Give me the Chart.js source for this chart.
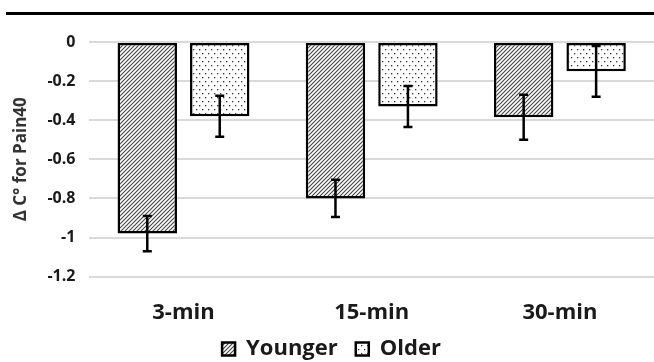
<!DOCTYPE html>
<html>
<head>
<meta charset="utf-8">
<script src="https://cdn.jsdelivr.net/npm/chart.js@4/dist/chart.umd.min.js"></script>
<style>
  html, body { margin: 0; padding: 0; background: #fff; }
  #wrap { position: relative; width: 654px; height: 362px; }
  #rule { position: absolute; left: 6px; right: 0; top: 12px; height: 3px; background: #000; }
</style>
</head>
<body>
<div id="wrap">
  <div id="rule"></div>
  <canvas id="chart" width="654" height="362"></canvas>
</div>
<script>
// Data
const categories = ['3-min', '15-min', '30-min'];
const younger    = [-0.98, -0.80, -0.385];
const youngerErr = [0.09, 0.095, 0.115];
const older      = [-0.38, -0.33, -0.15];
const olderErr   = [0.105, 0.105, 0.13];
const yTicks     = [0, -0.2, -0.4, -0.6, -0.8, -1, -1.2];

const TEXT = '#1a1a1a';
const FONT = '"Open Sans", "DejaVu Sans", sans-serif';

// Hatch and dot fills
function hatch() {
  const c = document.createElement('canvas');
  c.width = 4; c.height = 4;
  const g = c.getContext('2d');
  g.fillStyle = '#fff'; g.fillRect(0, 0, 4, 4);
  g.strokeStyle = '#444'; g.lineWidth = 1.1;
  g.beginPath();
  g.moveTo(-1, 5); g.lineTo(5, -1);
  g.moveTo(-1, 1); g.lineTo(1, -1);
  g.moveTo(3, 5); g.lineTo(5, 3);
  g.stroke();
  return g.createPattern(c, 'repeat');
}
function dots() {
  const c = document.createElement('canvas');
  c.width = 6; c.height = 8;
  const g = c.getContext('2d');
  g.fillStyle = '#fff'; g.fillRect(0, 0, 6, 8);
  g.fillStyle = '#333';
  g.fillRect(1, 1, 1.3, 1.3);
  g.fillRect(4, 5, 1.3, 1.3);
  return g.createPattern(c, 'repeat');
}

// Error bars drawn through the y scale
const errorBars = {
  id: 'errorBars',
  afterDatasetsDraw(chart) {
    const ctx = chart.ctx, y = chart.scales.y;
    const errs = [youngerErr, olderErr];
    ctx.save();
    ctx.strokeStyle = '#000';
    ctx.lineWidth = 2.5;
    chart.data.datasets.forEach((ds, di) => {
      chart.getDatasetMeta(di).data.forEach((bar, i) => {
        const v = ds.data[i], e = errs[di][i];
        const top = y.getPixelForValue(v + e), bot = y.getPixelForValue(v - e);
        const x = bar.x;
        ctx.beginPath();
        ctx.moveTo(x, top); ctx.lineTo(x, bot);
        ctx.moveTo(x - 4.5, top); ctx.lineTo(x + 4.5, top);
        ctx.moveTo(x - 4.5, bot); ctx.lineTo(x + 4.5, bot);
        ctx.stroke();
      });
    });
    ctx.restore();
  }
};

new Chart(document.getElementById('chart'), {
  type: 'bar',
  data: {
    labels: categories,
    datasets: [
      { label: 'Younger', data: younger, backgroundColor: hatch(), borderColor: '#000', borderWidth: 2.5, borderSkipped: false },
      { label: 'Older',   data: older,   backgroundColor: dots(),  borderColor: '#000', borderWidth: 2.5, borderSkipped: false }
    ]
  },
  options: {
    responsive: false,
    animation: false,
    datasets: { bar: { categoryPercentage: 0.77, barPercentage: 0.82 } },
    layout: { padding: { top: 42, right: 0, left: 9, bottom: -8 } },
    plugins: {
      legend: {
        position: 'bottom',
        labels: {
          color: TEXT, font: { family: FONT, size: 22, weight: 'bold' },
          boxWidth: 13, boxHeight: 13, padding: 18
        }
      },
      tooltip: { enabled: false }
    },
    scales: {
      x: {
        grid: { display: false, drawTicks: true, tickLength: 29 },
        border: { display: false },
        ticks: { color: TEXT, font: { family: FONT, size: 22, weight: 'bold' }, padding: -6 }
      },
      y: {
        min: -1.2, max: 0,
        afterBuildTicks: ax => { ax.ticks = yTicks.map(v => ({ value: v })); },
        grid: { color: '#d9d9d9', lineWidth: 2, drawTicks: false },
        border: { display: false },
        ticks: { color: TEXT, font: { family: FONT, size: 16, weight: 'bold' }, padding: 14,
                 callback: v => String(Math.round(v * 10) / 10) },
        title: { display: true, text: 'Δ C° for Pain40', color: '#333', font: { family: FONT, size: 17, weight: 'bold' }, padding: 2 }
      }
    }
  },
  plugins: [errorBars]
});
</script>
</body>
</html>
